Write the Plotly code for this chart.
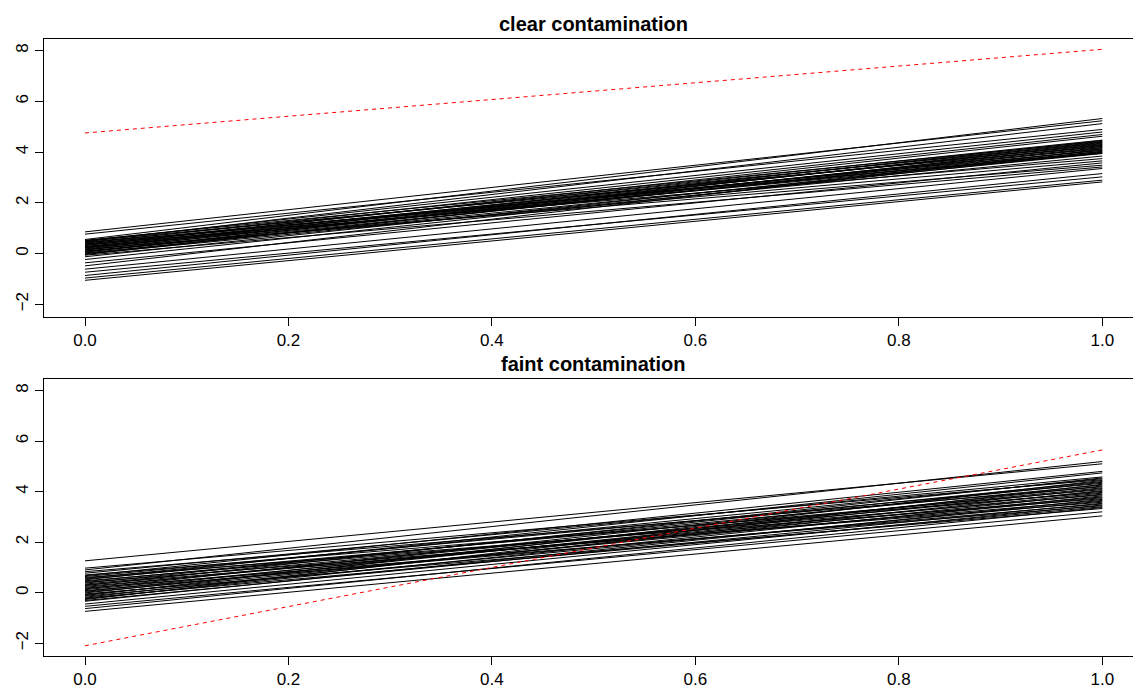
import plotly.graph_objects as go

# x grid shared by every line (each line is a straight fit over [0, 1])
x_grid = [0.0, 1.0]

# Panel 1: clear contamination — value of each clean curve at x=0 and x=1
clear_start = [0.85, 0.76, 0.55, 0.52, 0.50, 0.49, 0.46, 0.44, 0.42, 0.41,
               0.38, 0.36, 0.34, 0.33, 0.31, 0.28, 0.26, 0.24, 0.23, 0.21,
               0.18, 0.16, 0.15, 0.13, 0.10, 0.08, 0.07, 0.05, 0.02, -0.01,
               -0.02, -0.04, -0.07, -0.13, -0.24, -0.37, -0.49, -0.62, -0.74,
               -0.87, -0.97, -1.06]
clear_end = [5.23, 4.89, 5.32, 4.42, 4.79, 4.21, 5.12, 4.35, 3.97, 4.69,
             4.06, 4.47, 3.74, 4.28, 4.62, 4.13, 4.40, 3.95, 4.30, 4.01,
             4.45, 3.48, 4.18, 4.33, 3.65, 4.23, 4.08, 4.38, 3.94, 4.16,
             3.84, 4.26, 3.41, 4.03, 3.99, 3.57, 4.11, 3.35, 3.02, 3.15,
             2.89, 2.82]
clear_outlier = [4.75, 8.05]

# Panel 2: faint contamination
faint_start = [1.26, 0.97, 0.90, 0.83, 0.77, 0.70, 0.67, 0.64, 0.60, 0.57,
               0.54, 0.51, 0.47, 0.44, 0.41, 0.38, 0.34, 0.31, 0.28, 0.25,
               0.21, 0.18, 0.15, 0.12, 0.08, 0.05, 0.02, -0.01, -0.05, -0.08,
               -0.11, -0.14, -0.18, -0.21, -0.24, -0.27, -0.31, -0.34, -0.45,
               -0.54, -0.63, -0.74]
faint_end = [5.10, 4.47, 5.19, 4.19, 4.58, 3.97, 4.80, 4.33, 3.72, 4.51,
             4.08, 4.74, 3.87, 4.26, 3.58, 4.40, 4.01, 3.65, 4.54, 3.79,
             4.15, 3.44, 4.37, 3.94, 3.51, 4.22, 3.76, 4.12, 3.33, 3.90,
             4.44, 3.62, 4.04, 3.40, 3.83, 4.29, 3.54, 3.69, 3.47, 3.20,
             3.37, 3.04]
faint_outlier = [-2.10, 5.65]

panel_titles = ["clear contamination", "faint contamination"]
x_ticks = [0.0, 0.2, 0.4, 0.6, 0.8, 1.0]
x_ticktext = ["0.0", "0.2", "0.4", "0.6", "0.8", "1.0"]
y_ticks = [-2, 0, 2, 4, 6, 8]

FONT = "Liberation Sans, Arial, Helvetica, sans-serif"
W, H = 1133, 688


def bundle(starts, ends):
    xs, ys = [], []
    for a, b in zip(starts, ends):
        xs += x_grid + [None]
        ys += [a, b, None]
    return xs, ys


fig = go.Figure()

panels = [
    (clear_start, clear_end, clear_outlier, "x", "y"),
    (faint_start, faint_end, faint_outlier, "x2", "y2"),
]
for starts, ends, outlier, xa, ya in panels:
    xs, ys = bundle(starts, ends)
    fig.add_trace(go.Scatter(x=xs, y=ys, mode="lines", xaxis=xa, yaxis=ya,
                             line=dict(color="black", width=1),
                             hoverinfo="skip", showlegend=False))
    fig.add_trace(go.Scatter(x=x_grid, y=outlier, mode="lines", xaxis=xa, yaxis=ya,
                             line=dict(color="#FF0000", width=1, dash="4px,4px"),
                             hoverinfo="skip", showlegend=False))

# shared y limits (data range plus 4% on each side)
all_vals = clear_start + clear_end + clear_outlier + faint_start + faint_end + faint_outlier
lo, hi = min(all_vals), max(all_vals)
pad = 0.04 * (hi - lo)
y_range = [lo - pad, hi + pad]
x_range = [-0.0403, 1.0302]

x_left = 44 / W
dom_top = [1 - 317 / H, 1 - 39 / H]
dom_bot = [1 - 656 / H, 1 - 379 / H]

xaxis_style = dict(range=x_range, showgrid=False, zeroline=False, showline=True,
                   linecolor="black", linewidth=1, mirror=True, ticks="outside",
                   ticklen=8, tickcolor="black", tickwidth=1, tickvals=x_ticks,
                   ticktext=x_ticktext, tickfont=dict(family=FONT, size=17, color="black"),
                   domain=[x_left, 1.0], fixedrange=True)
yaxis_style = dict(range=y_range, showgrid=False, zeroline=False, showline=True,
                   linecolor="black", linewidth=1, mirror=False, ticks="outside",
                   ticklen=8, tickcolor="black", tickwidth=1, tickvals=y_ticks,
                   tickangle=-90, tickfont=dict(family=FONT, size=17, color="black"),
                   fixedrange=True)

fig.update_layout(
    width=W, height=H,
    margin=dict(l=0, r=0, t=0, b=0),
    paper_bgcolor="white", plot_bgcolor="white",
    xaxis=dict(xaxis_style, anchor="y"),
    yaxis=dict(yaxis_style, domain=dom_top, anchor="x"),
    xaxis2=dict(xaxis_style, anchor="y2"),
    yaxis2=dict(yaxis_style, domain=dom_bot, anchor="x2"),
    annotations=[
        dict(text="<b>%s</b>" % panel_titles[0], x=593 / W, y=1 - 24 / H,
             xref="paper", yref="paper", xanchor="center", yanchor="middle",
             showarrow=False, font=dict(family=FONT, size=20, color="black")),
        dict(text="<b>%s</b>" % panel_titles[1], x=593 / W, y=1 - 364 / H,
             xref="paper", yref="paper", xanchor="center", yanchor="middle",
             showarrow=False, font=dict(family=FONT, size=20, color="black")),
    ],
)

fig.write_html("out.html")
